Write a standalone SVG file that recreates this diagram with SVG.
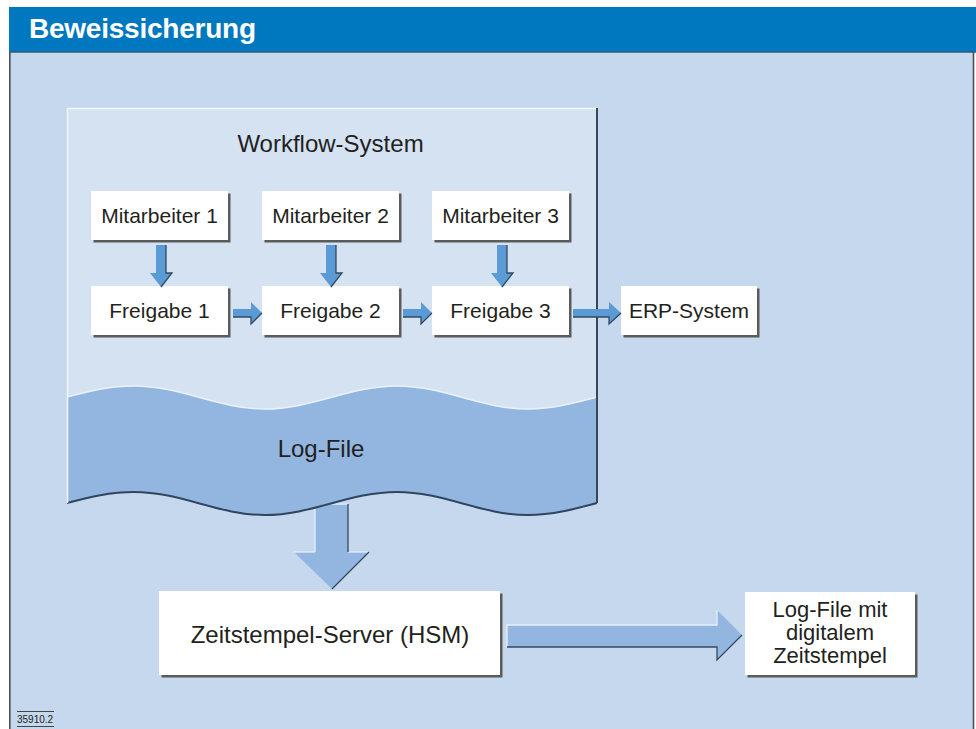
<svg xmlns="http://www.w3.org/2000/svg" width="976" height="729" viewBox="0 0 976 729">
<style>
.box{fill:#ffffff}
.shadow{fill:#5b5b5b}
.t{font-family:"Liberation Sans",Arial,sans-serif;fill:#231f20;text-anchor:middle}
.t21{font-size:21px}
.small{fill:#5b9bd5}
.big{fill:#93b6e0}
.dark{fill:none;stroke:#34495f;stroke-width:1.3}
.light{fill:none;stroke:#e6eff9;stroke-width:1.3}
</style>
<rect x="0" y="0" width="976" height="729" fill="#ffffff"/>
<!-- frame -->
<rect x="9" y="52" width="965" height="677" fill="#c5d8ee"/>
<line x1="9.8" y1="52" x2="9.8" y2="729" stroke="#4a4f57" stroke-width="1.6"/>
<line x1="973.5" y1="52" x2="973.5" y2="729" stroke="#4a4f57" stroke-width="1.6"/>
<rect x="9" y="7" width="967" height="45" fill="#0078bf"/>
<line x1="9" y1="52" x2="976" y2="52" stroke="#2e5a7e" stroke-width="1.4"/>
<text x="29" y="37.5" font-family="'Liberation Sans',Arial,sans-serif" font-weight="bold" font-size="28" fill="#ffffff" textLength="227">Beweissicherung</text>

<!-- big down arrow (behind workflow box) -->
<g id="arrow-log-to-ts">
<polygon class="big" points="315,503 348,503 348,552 369,552 332,589 294,552 315,552"/>
<polyline class="light" points="315,552 315,504 348,504"/>
<polyline class="light" points="294,552 315,552"/>
<polyline class="light" points="348,552 369,552"/>
<polyline class="dark" points="348,504 348,552"/>
<polyline class="dark" points="369,552 332,589"/>
</g>

<!-- workflow system -->
<g id="workflow-system">
<path d="M67,108 H597 V397 C575,403 552,409 528,409 C481,409 444,386 397,386 C350,386 312,409 265,409 C218,409 181,386 134,386 C110,386 90,391 67,397 Z" fill="#d4e2f2"/>
<path id="log-file" d="M67,397 C90,391 110,386 134,386 C181,386 218,409 265,409 C312,409 350,386 397,386 C444,386 481,409 528,409 C552,409 575,403 597,397 V503 C575,509 552,515 528,515 C481,515 444,492 397,492 C350,492 312,515 265,515 C218,515 181,492 134,492 C110,492 90,497 67,503 Z" fill="#93b6e0"/>
<path d="M67,397 C90,391 110,386 134,386 C181,386 218,409 265,409 C312,409 350,386 397,386 C444,386 481,409 528,409 C552,409 575,403 597,397" fill="none" stroke="#eaf2fb" stroke-width="1.5"/>
<path d="M67,503 C90,497 110,492 134,492 C181,492 218,515 265,515 C312,515 350,492 397,492 C444,492 481,515 528,515 C552,515 575,509 597,503" fill="none" stroke="#2f4560" stroke-width="2"/>
<line x1="67" y1="108.5" x2="597" y2="108.5" stroke="#f2f6fb" stroke-width="1.5"/>
<line x1="67.5" y1="108" x2="67.5" y2="503" stroke="#f2f6fb" stroke-width="1.5"/>
<line x1="597" y1="108" x2="597" y2="503" stroke="#3a4555" stroke-width="2"/>
<text class="t" x="330.5" y="152" font-size="24">Workflow-System</text>
<text class="t" x="321" y="457" font-size="24">Log-File</text>
</g>

<!-- nodes -->
<g id="mitarbeiter-1">
<rect class="shadow" x="93.5" y="193.5" width="137" height="49"/>
<rect class="box" x="91" y="191" width="137" height="49"/>
<text class="t t21" x="159.5" y="223">Mitarbeiter 1</text>
</g>
<g id="mitarbeiter-2">
<rect class="shadow" x="264.5" y="193.5" width="137" height="49"/>
<rect class="box" x="262" y="191" width="137" height="49"/>
<text class="t t21" x="330.5" y="223">Mitarbeiter 2</text>
</g>
<g id="mitarbeiter-3">
<rect class="shadow" x="434.5" y="193.5" width="137" height="49"/>
<rect class="box" x="432" y="191" width="137" height="49"/>
<text class="t t21" x="500.5" y="223">Mitarbeiter 3</text>
</g>
<g id="freigabe-1">
<rect class="shadow" x="93.5" y="288.5" width="137" height="49"/>
<rect class="box" x="91" y="286" width="137" height="49"/>
<text class="t t21" x="159.5" y="318">Freigabe 1</text>
</g>
<g id="freigabe-2">
<rect class="shadow" x="264.5" y="288.5" width="137" height="49"/>
<rect class="box" x="262" y="286" width="137" height="49"/>
<text class="t t21" x="330.5" y="318">Freigabe 2</text>
</g>
<g id="freigabe-3">
<rect class="shadow" x="434.5" y="288.5" width="137" height="49"/>
<rect class="box" x="432" y="286" width="137" height="49"/>
<text class="t t21" x="500.5" y="318">Freigabe 3</text>
</g>
<g id="erp-system">
<rect class="shadow" x="623.5" y="288.5" width="136" height="49"/>
<rect class="box" x="621" y="286" width="136" height="49"/>
<text class="t t21" x="689" y="318">ERP-System</text>
</g>
<g id="zeitstempel-server">
<rect class="shadow" x="161.5" y="593.5" width="341" height="84"/>
<rect class="box" x="159" y="591" width="341" height="84"/>
<text class="t" x="330" y="643" font-size="24">Zeitstempel-Server (HSM)</text>
</g>
<g id="log-file-ts">
<rect class="shadow" x="747.5" y="594.5" width="170" height="83"/>
<rect class="box" x="745" y="592" width="170" height="83"/>
<text class="t" x="830" y="617" font-size="22">Log-File mit</text>
<text class="t" x="830" y="640" font-size="22">digitalem</text>
<text class="t" x="830" y="663" font-size="22">Zeitstempel</text>
</g>

<!-- connectors -->
<g id="connectors">
<g id="m1-f1">
<polygon class="small" points="156,245 166,245 166,273 172,273 161,287 150,273 156,273"/>
<polyline class="dark" points="166,245 166,273 172,273 161,287"/>
</g>
<g id="m2-f2">
<polygon class="small" points="326,245 336,245 336,273 342,273 331,287 320,273 326,273"/>
<polyline class="dark" points="336,245 336,273 342,273 331,287"/>
</g>
<g id="m3-f3">
<polygon class="small" points="497,245 507,245 507,273 513,273 502,287 491,273 497,273"/>
<polyline class="dark" points="507,245 507,273 513,273 502,287"/>
</g>
<g id="f1-f2">
<polygon class="small" points="233,309 251,309 251,302 262,313 251,324 251,317 233,317"/>
<polyline class="dark" points="233,317 251,317 251,324 262,313"/>
</g>
<g id="f2-f3">
<polygon class="small" points="403,309 421,309 421,302 432,313 421,324 421,317 403,317"/>
<polyline class="dark" points="403,317 421,317 421,324 432,313"/>
</g>
<g id="f3-erp">
<polygon class="small" points="573,309 609,309 609,302 621,313 609,324 609,317 573,317"/>
<polyline class="dark" points="573,317 609,317 609,324 621,313"/>
</g>
<g id="ts-logfile">
<polygon class="big" points="507,625 717,625 717,610 742,635 717,660 717,647 507,647"/>
<polyline class="light" points="507,647 507,625 717,625 717,610"/>
<polyline class="dark" points="507,647 717,647 717,660 742,635"/>
</g>
</g>

<!-- figure number -->
<g id="figure-number">
<line x1="17" y1="711.5" x2="54" y2="711.5" stroke="#231f20" stroke-width="0.8"/>
<text x="17" y="723" font-family="'Liberation Sans',Arial,sans-serif" font-size="10" fill="#231f20">35910.2</text>
<line x1="17" y1="726.5" x2="54" y2="726.5" stroke="#231f20" stroke-width="0.8"/>
</g>
</svg>
